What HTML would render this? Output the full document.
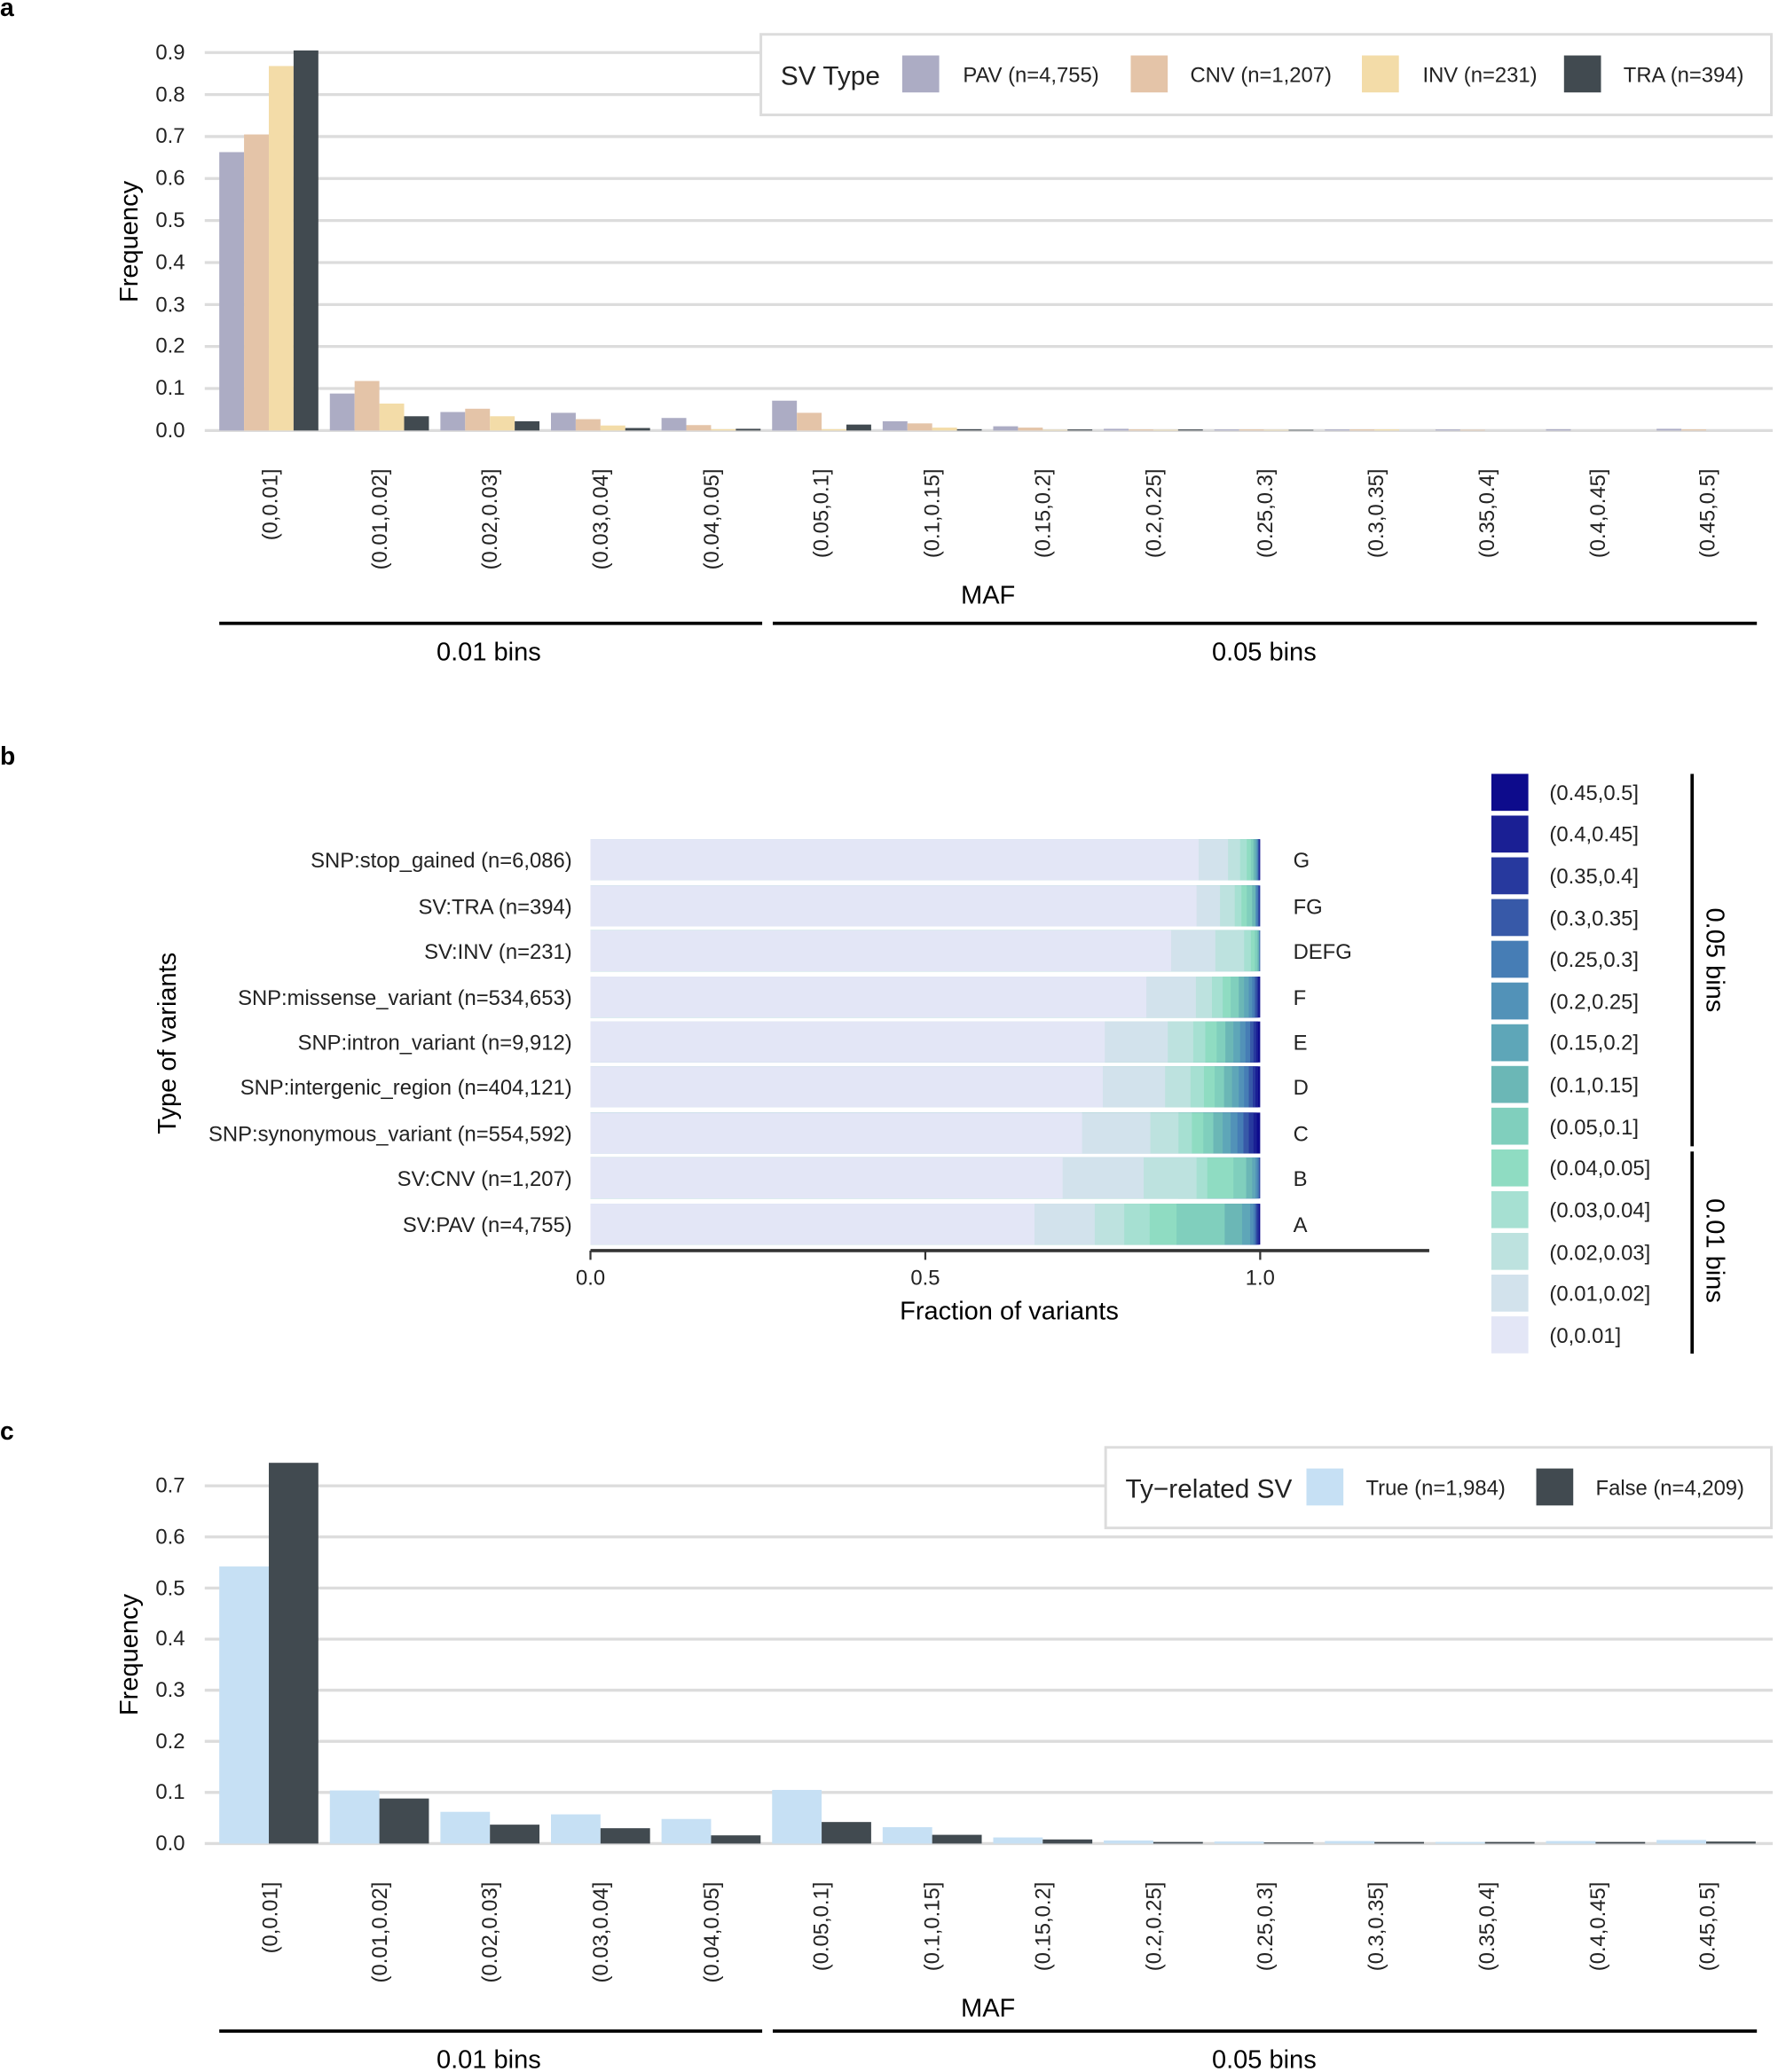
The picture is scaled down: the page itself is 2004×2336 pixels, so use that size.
<!DOCTYPE html>
<html><head><meta charset="utf-8"><style>
html,body{margin:0;padding:0;background:#fff}
svg{display:block}
text{font-family:"Liberation Sans",Arial,sans-serif;fill:#222}
.t{font-size:16px}
.ti{font-size:19.5px;fill:#000}
.xl{font-size:16px}
</style></head><body>
<svg width="2004" height="2336" viewBox="0 0 1346 1569" preserveAspectRatio="none" xmlns="http://www.w3.org/2000/svg">
<rect width="1346" height="1569" fill="#fff"/>
<!-- ============ Panel a ============ -->
<text x="0" y="12" style="font-size:19px;font-weight:bold;fill:#000">a</text>
<g stroke="#dcdcdc" stroke-width="2.2">
<line x1="155" x2="1342" y1="326" y2="326"/><line x1="155" x2="1342" y1="294.2" y2="294.2"/><line x1="155" x2="1342" y1="262.4" y2="262.4"/><line x1="155" x2="1342" y1="230.6" y2="230.6"/><line x1="155" x2="1342" y1="198.8" y2="198.8"/><line x1="155" x2="1342" y1="167" y2="167"/><line x1="155" x2="1342" y1="135.2" y2="135.2"/><line x1="155" x2="1342" y1="103.4" y2="103.4"/><line x1="155" x2="1342" y1="71.6" y2="71.6"/><line x1="155" x2="1342" y1="39.8" y2="39.8"/>
</g>
<g class="t" text-anchor="end">
<text x="140" y="331">0.0</text><text x="140" y="299">0.1</text><text x="140" y="267">0.2</text><text x="140" y="236">0.3</text><text x="140" y="204">0.4</text><text x="140" y="172">0.5</text><text x="140" y="140">0.6</text><text x="140" y="108">0.7</text><text x="140" y="77">0.8</text><text x="140" y="45">0.9</text>
</g>
<text class="ti" transform="translate(104,183) rotate(-90)" text-anchor="middle">Frequency</text>
<g>
<g transform="translate(166,326) scale(1,-1)"><rect x="0" width="18.75" height="210.8" fill="#acacc4"/><rect x="18.75" width="18.75" height="224.2" fill="#e4c4a8"/><rect x="37.5" width="18.75" height="276" fill="#f3dca8"/><rect x="56.25" width="18.75" height="287.8" fill="#414a50"/></g>
<g transform="translate(249.7,326) scale(1,-1)"><rect x="0" width="18.75" height="28" fill="#acacc4"/><rect x="18.75" width="18.75" height="37.5" fill="#e4c4a8"/><rect x="37.5" width="18.75" height="20.4" fill="#f3dca8"/><rect x="56.25" width="18.75" height="10.8" fill="#414a50"/></g>
<g transform="translate(333.4,326) scale(1,-1)"><rect x="0" width="18.75" height="14" fill="#acacc4"/><rect x="18.75" width="18.75" height="16.5" fill="#e4c4a8"/><rect x="37.5" width="18.75" height="10.8" fill="#f3dca8"/><rect x="56.25" width="18.75" height="7" fill="#414a50"/></g>
<g transform="translate(417.1,326) scale(1,-1)"><rect x="0" width="18.75" height="13.4" fill="#acacc4"/><rect x="18.75" width="18.75" height="8.6" fill="#e4c4a8"/><rect x="37.5" width="18.75" height="3.8" fill="#f3dca8"/><rect x="56.25" width="18.75" height="1.9" fill="#414a50"/></g>
<g transform="translate(500.8,326) scale(1,-1)"><rect x="0" width="18.75" height="9.5" fill="#acacc4"/><rect x="18.75" width="18.75" height="4.1" fill="#e4c4a8"/><rect x="37.5" width="18.75" height="1" fill="#f3dca8"/><rect x="56.25" width="18.75" height="1.3" fill="#414a50"/></g>
<g transform="translate(584.5,326) scale(1,-1)"><rect x="0" width="18.75" height="22.6" fill="#acacc4"/><rect x="18.75" width="18.75" height="13.4" fill="#e4c4a8"/><rect x="37.5" width="18.75" height="1" fill="#f3dca8"/><rect x="56.25" width="18.75" height="4.5" fill="#414a50"/></g>
<g transform="translate(668.2,326) scale(1,-1)"><rect x="0" width="18.75" height="7" fill="#acacc4"/><rect x="18.75" width="18.75" height="5.4" fill="#e4c4a8"/><rect x="37.5" width="18.75" height="2.2" fill="#f3dca8"/><rect x="56.25" width="18.75" height="1" fill="#414a50"/></g>
<g transform="translate(751.9,326) scale(1,-1)"><rect x="0" width="18.75" height="3.2" fill="#acacc4"/><rect x="18.75" width="18.75" height="2.2" fill="#e4c4a8"/><rect x="37.5" width="18.75" height="0.5" fill="#f3dca8"/><rect x="56.25" width="18.75" height="0.8" fill="#414a50"/></g>
<g transform="translate(835.6,326) scale(1,-1)"><rect x="0" width="18.75" height="1.3" fill="#acacc4"/><rect x="18.75" width="18.75" height="0.8" fill="#e4c4a8"/><rect x="37.5" width="18.75" height="0.5" fill="#f3dca8"/><rect x="56.25" width="18.75" height="0.8" fill="#414a50"/></g>
<g transform="translate(919.3,326) scale(1,-1)"><rect x="0" width="18.75" height="0.8" fill="#acacc4"/><rect x="18.75" width="18.75" height="0.8" fill="#e4c4a8"/><rect x="37.5" width="18.75" height="0.5" fill="#f3dca8"/><rect x="56.25" width="18.75" height="0.5" fill="#414a50"/></g>
<g transform="translate(1003,326) scale(1,-1)"><rect x="0" width="18.75" height="0.8" fill="#acacc4"/><rect x="18.75" width="18.75" height="0.8" fill="#e4c4a8"/><rect x="37.5" width="18.75" height="0.8" fill="#f3dca8"/></g>
<g transform="translate(1086.7,326) scale(1,-1)"><rect x="0" width="18.75" height="0.8" fill="#acacc4"/><rect x="18.75" width="18.75" height="0.5" fill="#e4c4a8"/></g>
<g transform="translate(1170.4,326) scale(1,-1)"><rect x="0" width="18.75" height="1" fill="#acacc4"/></g>
<g transform="translate(1254.1,326) scale(1,-1)"><rect x="0" width="18.75" height="1.3" fill="#acacc4"/><rect x="18.75" width="18.75" height="0.8" fill="#e4c4a8"/></g>
</g>
<g class="xl" text-anchor="end">
<text transform="translate(210,355) rotate(-90)">(0,0.01]</text>
<text transform="translate(293,355) rotate(-90)">(0.01,0.02]</text>
<text transform="translate(376,355) rotate(-90)">(0.02,0.03]</text>
<text transform="translate(460,355) rotate(-90)">(0.03,0.04]</text>
<text transform="translate(544,355) rotate(-90)">(0.04,0.05]</text>
<text transform="translate(627,355) rotate(-90)">(0.05,0.1]</text>
<text transform="translate(711,355) rotate(-90)">(0.1,0.15]</text>
<text transform="translate(795,355) rotate(-90)">(0.15,0.2]</text>
<text transform="translate(879,355) rotate(-90)">(0.2,0.25]</text>
<text transform="translate(963,355) rotate(-90)">(0.25,0.3]</text>
<text transform="translate(1047,355) rotate(-90)">(0.3,0.35]</text>
<text transform="translate(1131,355) rotate(-90)">(0.35,0.4]</text>
<text transform="translate(1215,355) rotate(-90)">(0.4,0.45]</text>
<text transform="translate(1298,355) rotate(-90)">(0.45,0.5]</text>
</g>
<text class="ti" x="748" y="457" text-anchor="middle">MAF</text>
<line x1="166" x2="577" y1="472" y2="472" stroke="#000" stroke-width="2.5"/>
<line x1="585" x2="1330" y1="472" y2="472" stroke="#000" stroke-width="2.5"/>
<text class="ti" x="370" y="500" text-anchor="middle">0.01 bins</text>
<text class="ti" x="957" y="500" text-anchor="middle">0.05 bins</text>
<rect x="576" y="26" width="765" height="61" fill="#fff" stroke="#dcdcdc" stroke-width="2"/>
<text x="591" y="64" style="font-size:20px">SV Type</text>
<rect x="683" y="42" width="28" height="28" fill="#acacc4"/><text class="t" x="729" y="62">PAV (n=4,755)</text>
<rect x="856" y="42" width="28" height="28" fill="#e4c4a8"/><text class="t" x="901" y="62">CNV (n=1,207)</text>
<rect x="1031" y="42" width="28" height="28" fill="#f3dca8"/><text class="t" x="1077" y="62">INV (n=231)</text>
<rect x="1184" y="42" width="28" height="28" fill="#414a50"/><text class="t" x="1229" y="62">TRA (n=394)</text>

<!-- ============ Panel b ============ -->
<text x="0" y="579" style="font-size:19px;font-weight:bold;fill:#000">b</text>
<g>
<g transform="translate(447,635.5) scale(507,1)"><rect width="1" height="31" fill="#0d0b8c"/><rect width=".9995" height="31" fill="#1a1f94"/><rect width=".999" height="31" fill="#27399e"/><rect width=".998" height="31" fill="#3759a8"/><rect width=".997" height="31" fill="#467db5"/><rect width=".996" height="31" fill="#5292b8"/><rect width=".995" height="31" fill="#5ea6b8"/><rect width=".993" height="31" fill="#6bb7b6"/><rect width=".990" height="31" fill="#80cfbd"/><rect width=".986" height="31" fill="#8fdcc2"/><rect width=".980" height="31" fill="#a6e0d2"/><rect width=".970" height="31" fill="#bde2df"/><rect width=".952" height="31" fill="#d2e2ec"/><rect width=".908" height="31" fill="#e3e6f6"/></g>
<g transform="translate(447,670.5) scale(507,1)"><rect width="1" height="31" fill="#27399e"/><rect width=".998" height="31" fill="#3759a8"/><rect width=".997" height="31" fill="#467db5"/><rect width=".995" height="31" fill="#5292b8"/><rect width=".993" height="31" fill="#6bb7b6"/><rect width=".988" height="31" fill="#80cfbd"/><rect width=".980" height="31" fill="#8fdcc2"/><rect width=".972" height="31" fill="#a6e0d2"/><rect width=".962" height="31" fill="#bde2df"/><rect width=".940" height="31" fill="#d2e2ec"/><rect width=".905" height="31" fill="#e3e6f6"/></g>
<g transform="translate(447,704.5) scale(507,1)"><rect width="1" height="31" fill="#3759a8"/><rect width=".999" height="31" fill="#5292b8"/><rect width=".998" height="31" fill="#6bb7b6"/><rect width=".996" height="31" fill="#80cfbd"/><rect width=".992" height="31" fill="#8fdcc2"/><rect width=".986" height="31" fill="#a6e0d2"/><rect width=".976" height="31" fill="#bde2df"/><rect width=".966" height="31" fill="#bde2df"/><rect width=".933" height="31" fill="#d2e2ec"/><rect width=".867" height="31" fill="#e3e6f6"/></g>
<g transform="translate(447,739.5) scale(507,1)"><rect width="1" height="31" fill="#0d0b8c"/><rect width=".999" height="31" fill="#1a1f94"/><rect width=".997" height="31" fill="#27399e"/><rect width=".995" height="31" fill="#3759a8"/><rect width=".992" height="31" fill="#467db5"/><rect width=".988" height="31" fill="#5292b8"/><rect width=".983" height="31" fill="#5ea6b8"/><rect width=".976" height="31" fill="#6bb7b6"/><rect width=".968" height="31" fill="#80cfbd"/><rect width=".956" height="31" fill="#8fdcc2"/><rect width=".944" height="31" fill="#a6e0d2"/><rect width=".928" height="31" fill="#bde2df"/><rect width=".904" height="31" fill="#d2e2ec"/><rect width=".830" height="31" fill="#e3e6f6"/></g>
<g transform="translate(447,773.5) scale(507,1)"><rect width="1" height="31" fill="#0d0b8c"/><rect width=".997" height="31" fill="#1a1f94"/><rect width=".994" height="31" fill="#27399e"/><rect width=".990" height="31" fill="#3759a8"/><rect width=".985" height="31" fill="#467db5"/><rect width=".978" height="31" fill="#5292b8"/><rect width=".970" height="31" fill="#5ea6b8"/><rect width=".960" height="31" fill="#6bb7b6"/><rect width=".948" height="31" fill="#80cfbd"/><rect width=".935" height="31" fill="#8fdcc2"/><rect width=".918" height="31" fill="#a6e0d2"/><rect width=".900" height="31" fill="#bde2df"/><rect width=".862" height="31" fill="#d2e2ec"/><rect width=".768" height="31" fill="#e3e6f6"/></g>
<g transform="translate(447,807.5) scale(507,1)"><rect width="1" height="31" fill="#0d0b8c"/><rect width=".997" height="31" fill="#1a1f94"/><rect width=".993" height="31" fill="#27399e"/><rect width=".989" height="31" fill="#3759a8"/><rect width=".983" height="31" fill="#467db5"/><rect width=".976" height="31" fill="#5292b8"/><rect width=".968" height="31" fill="#5ea6b8"/><rect width=".958" height="31" fill="#6bb7b6"/><rect width=".946" height="31" fill="#80cfbd"/><rect width=".932" height="31" fill="#8fdcc2"/><rect width=".916" height="31" fill="#a6e0d2"/><rect width=".896" height="31" fill="#bde2df"/><rect width=".858" height="31" fill="#d2e2ec"/><rect width=".765" height="31" fill="#e3e6f6"/></g>
<g transform="translate(447,842.5) scale(507,1)"><rect width="1" height="31" fill="#0d0b8c"/><rect width=".995" height="31" fill="#1a1f94"/><rect width=".990" height="31" fill="#27399e"/><rect width=".983" height="31" fill="#3759a8"/><rect width=".975" height="31" fill="#467db5"/><rect width=".966" height="31" fill="#5292b8"/><rect width=".956" height="31" fill="#5ea6b8"/><rect width=".944" height="31" fill="#6bb7b6"/><rect width=".930" height="31" fill="#80cfbd"/><rect width=".915" height="31" fill="#8fdcc2"/><rect width=".898" height="31" fill="#a6e0d2"/><rect width=".878" height="31" fill="#bde2df"/><rect width=".836" height="31" fill="#d2e2ec"/><rect width=".734" height="31" fill="#e3e6f6"/></g>
<g transform="translate(447,876.5) scale(507,1)"><rect width="1" height="31" fill="#27399e"/><rect width=".999" height="31" fill="#3759a8"/><rect width=".998" height="31" fill="#467db5"/><rect width=".996" height="31" fill="#5292b8"/><rect width=".993" height="31" fill="#5ea6b8"/><rect width=".988" height="31" fill="#6bb7b6"/><rect width=".979" height="31" fill="#80cfbd"/><rect width=".960" height="31" fill="#8fdcc2"/><rect width=".921" height="31" fill="#a6e0d2"/><rect width=".905" height="31" fill="#bde2df"/><rect width=".878" height="31" fill="#bde2df"/><rect width=".826" height="31" fill="#d2e2ec"/><rect width=".705" height="31" fill="#e3e6f6"/></g>
<g transform="translate(447,911.5) scale(507,1)"><rect width="1" height="31" fill="#0d0b8c"/><rect width=".998" height="31" fill="#27399e"/><rect width=".995" height="31" fill="#3759a8"/><rect width=".993" height="31" fill="#467db5"/><rect width=".990" height="31" fill="#5292b8"/><rect width=".985" height="31" fill="#5ea6b8"/><rect width=".973" height="31" fill="#6bb7b6"/><rect width=".947" height="31" fill="#80cfbd"/><rect width=".875" height="31" fill="#8fdcc2"/><rect width=".835" height="31" fill="#a6e0d2"/><rect width=".797" height="31" fill="#bde2df"/><rect width=".753" height="31" fill="#d2e2ec"/><rect width=".663" height="31" fill="#e3e6f6"/></g>
</g>
<g class="t" text-anchor="end">
<text x="433" y="657">SNP:stop_gained (n=6,086)</text>
<text x="433" y="692">SV:TRA (n=394)</text>
<text x="433" y="726">SV:INV (n=231)</text>
<text x="433" y="761">SNP:missense_variant (n=534,653)</text>
<text x="433" y="795">SNP:intron_variant (n=9,912)</text>
<text x="433" y="829">SNP:intergenic_region (n=404,121)</text>
<text x="433" y="864">SNP:synonymous_variant (n=554,592)</text>
<text x="433" y="898">SV:CNV (n=1,207)</text>
<text x="433" y="933">SV:PAV (n=4,755)</text>
</g>
<g class="t">
<text x="979" y="657">G</text><text x="979" y="692">FG</text><text x="979" y="726">DEFG</text><text x="979" y="761">F</text><text x="979" y="795">E</text><text x="979" y="829">D</text><text x="979" y="864">C</text><text x="979" y="898">B</text><text x="979" y="933">A</text>
</g>
<text class="ti" transform="translate(133,790) rotate(-90)" text-anchor="middle">Type of variants</text>
<line x1="447" x2="1082" y1="947" y2="947" stroke="#333" stroke-width="2.5"/>
<g stroke="#333" stroke-width="1.5"><line x1="447" x2="447" y1="947" y2="954"/><line x1="700.5" x2="700.5" y1="947" y2="954"/><line x1="954" x2="954" y1="947" y2="954"/></g>
<g class="t" text-anchor="middle"><text x="447" y="973">0.0</text><text x="700.5" y="973">0.5</text><text x="954" y="973">1.0</text></g>
<text class="ti" x="764" y="999" text-anchor="middle">Fraction of variants</text>
<g>
<rect x="1129" y="586" width="28" height="28" fill="#0d0b8c"/><rect x="1129" y="617.6" width="28" height="28" fill="#1a1f94"/><rect x="1129" y="649.2" width="28" height="28" fill="#27399e"/><rect x="1129" y="680.8" width="28" height="28" fill="#3759a8"/><rect x="1129" y="712.4" width="28" height="28" fill="#467db5"/><rect x="1129" y="744" width="28" height="28" fill="#5292b8"/><rect x="1129" y="775.6" width="28" height="28" fill="#5ea6b8"/><rect x="1129" y="807.2" width="28" height="28" fill="#6bb7b6"/><rect x="1129" y="838.8" width="28" height="28" fill="#80cfbd"/><rect x="1129" y="870.4" width="28" height="28" fill="#8fdcc2"/><rect x="1129" y="902" width="28" height="28" fill="#a6e0d2"/><rect x="1129" y="933.6" width="28" height="28" fill="#bde2df"/><rect x="1129" y="965.2" width="28" height="28" fill="#d2e2ec"/><rect x="1129" y="996.8" width="28" height="28" fill="#e3e6f6"/>
</g>
<g class="t">
<text x="1173" y="606">(0.45,0.5]</text><text x="1173" y="637">(0.4,0.45]</text><text x="1173" y="669">(0.35,0.4]</text><text x="1173" y="701">(0.3,0.35]</text><text x="1173" y="732">(0.25,0.3]</text><text x="1173" y="764">(0.2,0.25]</text><text x="1173" y="795">(0.15,0.2]</text><text x="1173" y="827">(0.1,0.15]</text><text x="1173" y="859">(0.05,0.1]</text><text x="1173" y="890">(0.04,0.05]</text><text x="1173" y="922">(0.03,0.04]</text><text x="1173" y="954">(0.02,0.03]</text><text x="1173" y="985">(0.01,0.02]</text><text x="1173" y="1017">(0,0.01]</text>
</g>
<line x1="1281" x2="1281" y1="586" y2="868" stroke="#000" stroke-width="2.5"/>
<line x1="1281" x2="1281" y1="872" y2="1025" stroke="#000" stroke-width="2.5"/>
<text class="ti" transform="translate(1292,727) rotate(90)" text-anchor="middle">0.05 bins</text>
<text class="ti" transform="translate(1292,947) rotate(90)" text-anchor="middle">0.01 bins</text>

<!-- ============ Panel c ============ -->
<text x="0" y="1090" style="font-size:19px;font-weight:bold;fill:#000">c</text>
<g stroke="#dcdcdc" stroke-width="2.2">
<line x1="155" x2="1342" y1="1396" y2="1396"/><line x1="155" x2="1342" y1="1357.3" y2="1357.3"/><line x1="155" x2="1342" y1="1318.6" y2="1318.6"/><line x1="155" x2="1342" y1="1279.9" y2="1279.9"/><line x1="155" x2="1342" y1="1241.2" y2="1241.2"/><line x1="155" x2="1342" y1="1202.5" y2="1202.5"/><line x1="155" x2="1342" y1="1163.8" y2="1163.8"/><line x1="155" x2="1342" y1="1125.1" y2="1125.1"/>
</g>
<g class="t" text-anchor="end">
<text x="140" y="1401">0.0</text><text x="140" y="1362">0.1</text><text x="140" y="1324">0.2</text><text x="140" y="1285">0.3</text><text x="140" y="1246">0.4</text><text x="140" y="1208">0.5</text><text x="140" y="1169">0.6</text><text x="140" y="1130">0.7</text>
</g>
<text class="ti" transform="translate(104,1253) rotate(-90)" text-anchor="middle">Frequency</text>
<g>
<g transform="translate(166,1396) scale(1,-1)"><rect width="37.5" height="209.8" fill="#c6e0f4"/><rect x="37.5" width="37.5" height="288.3" fill="#414a50"/></g>
<g transform="translate(249.7,1396) scale(1,-1)"><rect width="37.5" height="40.2" fill="#c6e0f4"/><rect x="37.5" width="37.5" height="34.1" fill="#414a50"/></g>
<g transform="translate(333.4,1396) scale(1,-1)"><rect width="37.5" height="24" fill="#c6e0f4"/><rect x="37.5" width="37.5" height="14.3" fill="#414a50"/></g>
<g transform="translate(417.1,1396) scale(1,-1)"><rect width="37.5" height="22.1" fill="#c6e0f4"/><rect x="37.5" width="37.5" height="11.6" fill="#414a50"/></g>
<g transform="translate(500.8,1396) scale(1,-1)"><rect width="37.5" height="18.6" fill="#c6e0f4"/><rect x="37.5" width="37.5" height="6.2" fill="#414a50"/></g>
<g transform="translate(584.5,1396) scale(1,-1)"><rect width="37.5" height="40.6" fill="#c6e0f4"/><rect x="37.5" width="37.5" height="16.3" fill="#414a50"/></g>
<g transform="translate(668.2,1396) scale(1,-1)"><rect width="37.5" height="12.4" fill="#c6e0f4"/><rect x="37.5" width="37.5" height="6.6" fill="#414a50"/></g>
<g transform="translate(751.9,1396) scale(1,-1)"><rect width="37.5" height="4.6" fill="#c6e0f4"/><rect x="37.5" width="37.5" height="3.1" fill="#414a50"/></g>
<g transform="translate(835.6,1396) scale(1,-1)"><rect width="37.5" height="2.3" fill="#c6e0f4"/><rect x="37.5" width="37.5" height="1.2" fill="#414a50"/></g>
<g transform="translate(919.3,1396) scale(1,-1)"><rect width="37.5" height="1.5" fill="#c6e0f4"/><rect x="37.5" width="37.5" height="0.8" fill="#414a50"/></g>
<g transform="translate(1003,1396) scale(1,-1)"><rect width="37.5" height="1.9" fill="#c6e0f4"/><rect x="37.5" width="37.5" height="1.2" fill="#414a50"/></g>
<g transform="translate(1086.7,1396) scale(1,-1)"><rect width="37.5" height="1.2" fill="#c6e0f4"/><rect x="37.5" width="37.5" height="1.2" fill="#414a50"/></g>
<g transform="translate(1170.4,1396) scale(1,-1)"><rect width="37.5" height="1.9" fill="#c6e0f4"/><rect x="37.5" width="37.5" height="1.2" fill="#414a50"/></g>
<g transform="translate(1254.1,1396) scale(1,-1)"><rect width="37.5" height="2.7" fill="#c6e0f4"/><rect x="37.5" width="37.5" height="1.5" fill="#414a50"/></g>
</g>
<g class="xl" text-anchor="end">
<text transform="translate(210,1425) rotate(-90)">(0,0.01]</text>
<text transform="translate(293,1425) rotate(-90)">(0.01,0.02]</text>
<text transform="translate(376,1425) rotate(-90)">(0.02,0.03]</text>
<text transform="translate(460,1425) rotate(-90)">(0.03,0.04]</text>
<text transform="translate(544,1425) rotate(-90)">(0.04,0.05]</text>
<text transform="translate(627,1425) rotate(-90)">(0.05,0.1]</text>
<text transform="translate(711,1425) rotate(-90)">(0.1,0.15]</text>
<text transform="translate(795,1425) rotate(-90)">(0.15,0.2]</text>
<text transform="translate(879,1425) rotate(-90)">(0.2,0.25]</text>
<text transform="translate(963,1425) rotate(-90)">(0.25,0.3]</text>
<text transform="translate(1047,1425) rotate(-90)">(0.3,0.35]</text>
<text transform="translate(1131,1425) rotate(-90)">(0.35,0.4]</text>
<text transform="translate(1215,1425) rotate(-90)">(0.4,0.45]</text>
<text transform="translate(1298,1425) rotate(-90)">(0.45,0.5]</text>
</g>
<text class="ti" x="748" y="1527" text-anchor="middle">MAF</text>
<line x1="166" x2="577" y1="1538" y2="1538" stroke="#000" stroke-width="2.5"/>
<line x1="585" x2="1330" y1="1538" y2="1538" stroke="#000" stroke-width="2.5"/>
<text class="ti" x="370" y="1566" text-anchor="middle">0.01 bins</text>
<text class="ti" x="957" y="1566" text-anchor="middle">0.05 bins</text>
<rect x="837" y="1096" width="504" height="61" fill="#fff" stroke="#dcdcdc" stroke-width="2"/>
<text x="852" y="1134" style="font-size:20px">Ty−related SV</text>
<rect x="989" y="1112" width="28" height="28" fill="#c6e0f4"/><text class="t" x="1034" y="1132">True (n=1,984)</text>
<rect x="1163" y="1112" width="28" height="28" fill="#414a50"/><text class="t" x="1208" y="1132">False (n=4,209)</text>
</svg>
</body></html>
